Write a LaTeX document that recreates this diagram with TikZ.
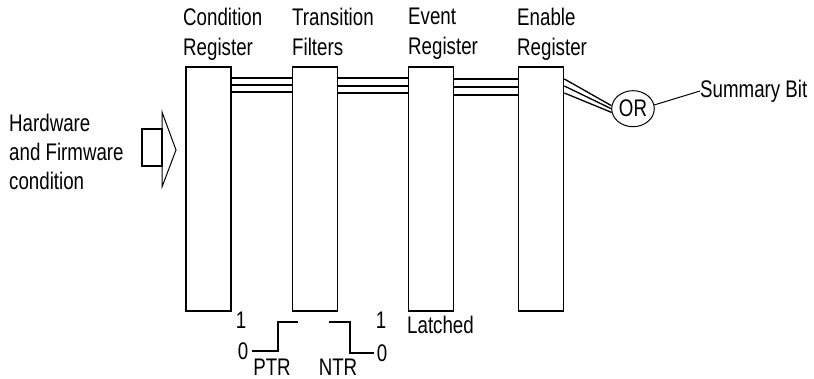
\documentclass[tikz,border=0pt]{standalone}
\usepackage{fontspec}
\setmainfont[FakeStretch=0.78]{Liberation Sans}
\usetikzlibrary{shapes.geometric}
\begin{document}
\begin{tikzpicture}[x=1pt,y=-1pt,
  reg/.style={draw,line width=1.7pt,minimum width=45pt,minimum height=244pt,inner sep=0pt},
  bus/.style={line width=1.3pt},
  lbl/.style={align=left,anchor=north west,inner sep=0pt,font=\fontsize{24}{30}\selectfont},
  txt/.style={inner sep=0pt,font=\fontsize{24}{30}\selectfont},
  wave/.style={line width=1.6pt},
  thin/.style={line width=1pt}]
\useasboundingbox (0,0) rectangle (814,379);
% registers
\node[reg] (b1) at (208.5,189) {};
\node[reg] (b2) at (315,189) {};
\node[reg] (b3) at (431,189) {};
\node[reg] (b4) at (541,189) {};
% labels
\node[lbl] (l1) at (183,8) {Condition\\Register};
\node[lbl] (l2) at (292,8) {Transition\\Filters};
\node[lbl] (l3) at (408,8) {Event\\Register};
\node[lbl] (l4) at (517,8) {Enable\\Register};
% buses
\foreach \y in {78,85,92} \draw[bus] (b1.east |- 0,\y) -- (b2.west |- 0,\y);
\foreach \y in {78,86,93} \draw[bus] (b2.east |- 0,\y) -- (b3.west |- 0,\y);
\foreach \y in {79,87,95} \draw[bus] (b3.east |- 0,\y) -- (b4.west |- 0,\y);
% OR gate
\node[ellipse,draw,thin,minimum width=42.6pt,minimum height=36pt,inner sep=0pt,font=\fontsize{24}{30}\selectfont] (or) at (633,108.7) {OR};
\draw[bus] (b4.east |- 0,79) -- (or.172);
\draw[bus] (b4.east |- 0,86) -- (or.180);
\draw[bus] (b4.east |- 0,93) -- (or.190);
\node[txt,anchor=west] (sum) at (700,91) {Summary Bit};
\draw[thin] (or.10) -- (sum.west);
% input
\node[lbl,font=\fontsize{24}{29}\selectfont] (hw) at (9,114) {Hardware\\and Firmware\\condition};
\coordinate (ra) at (142,129);
\coordinate (rb) at (162,166);
\draw[line width=1.4pt] (ra) rectangle (rb);
\coordinate (ta) at (162,112);
\coordinate (tb) at (176,150);
\coordinate (tc) at (162,187);
\draw[line width=1pt,line join=miter] (ta) -- (tb) -- (tc) -- cycle;
% transitions
\node[txt] (p1) at (241,320) {1};
\node[txt] (p0) at (243,351) {0};
\node[txt] (n1) at (381,320) {1};
\node[txt] (n0) at (382,353) {0};
\node[txt] (ptr) at (272,367) {PTR};
\node[txt] (ntr) at (338,367) {NTR};
\node[txt,anchor=west] (lat) at (407,325) {Latched};
\draw[wave] (252,351) -- (278,351) -- (278,322) -- (298,322);
\draw[wave] (329,322) -- (350,322) -- (350,353) -- (374,353);
\end{tikzpicture}
\end{document}
